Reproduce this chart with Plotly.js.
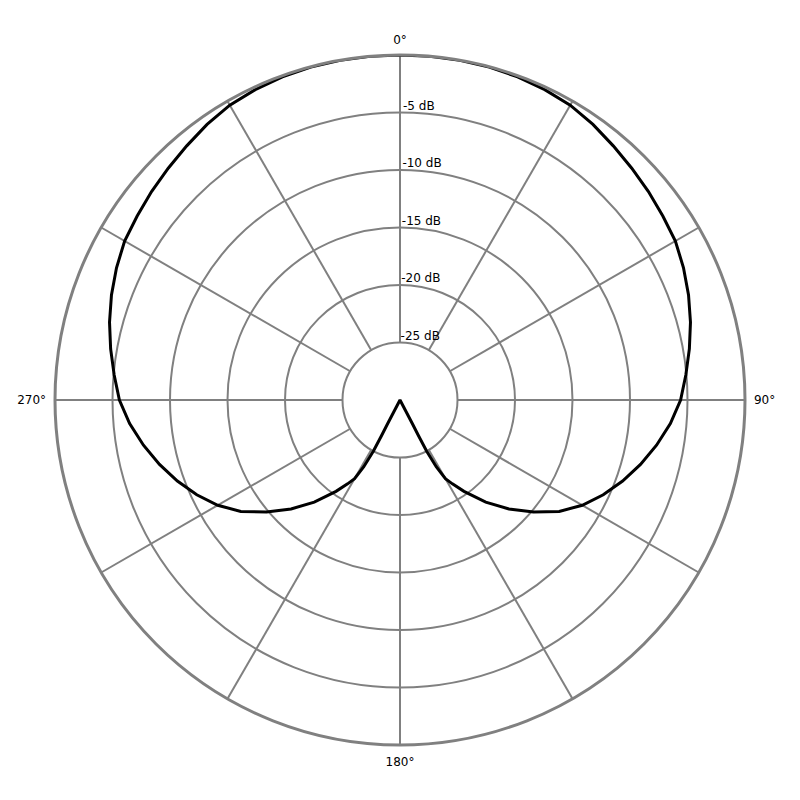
<!DOCTYPE html>
<html>
<head>
<meta charset="utf-8">
<script src="https://cdn.plot.ly/plotly-3.0.1.min.js"></script>
<style>html,body{margin:0;padding:0;background:#fff;}#chart{width:800px;height:800px;}</style>
</head>
<body>
<div id="chart"></div>
<script>
// Polar response (dB), angle in degrees (clockwise from top)
var curveTheta = [0, 5, 10, 15, 20, 25, 30, 35, 40, 45, 50, 55, 60, 65, 70, 75, 80, 85, 90,
                  95, 100, 105, 110, 115, 120, 125, 130, 135, 140, 145, 148, 150, 151.5, 152.5, 152.6, 152.4, 153, 180,
                  207, 207.6, 207.4, 207.5, 208.5, 210, 212, 215, 220, 225, 230, 235, 240, 245, 250, 255, 260, 265,
                  270, 275, 280, 285, 290, 295, 300, 305, 310, 315, 320, 325, 330, 335, 340, 345, 350, 355, 360];
var curveR = [0, 0, 0, -0.02, -0.1, -0.22, -0.4, -0.75, -1.15, -1.5, -1.8, -2.1, -2.35, -2.8, -3.3, -3.85, -4.45, -5.05, -5.6,
              -6.4, -7.35, -8.35, -9.4, -10.5, -11.7, -13.1, -14.85, -16.6, -18.4, -20.3, -21.4, -22.1, -23.4, -25.0, -26.5, -27.6, -30, -30,
              -30, -27.6, -26.5, -25.0, -23.4, -22.1, -21.4, -20.3, -18.4, -16.6, -14.85, -13.1, -11.7, -10.5, -9.4, -8.35, -7.35, -6.4,
              -5.6, -5.05, -4.45, -3.85, -3.3, -2.8, -2.35, -2.1, -1.8, -1.5, -1.15, -0.75, -0.4, -0.22, -0.1, -0.02, 0, 0, 0];

var ringValues = [-25, -20, -15, -10, -5];
var ringLabels = ['-25 dB', '-20 dB', '-15 dB', '-10 dB', '-5 dB'];
var spokeAngles = [0, 30, 60, 90, 120, 150, 180, 210, 240, 270, 300, 330];
var angleTicks = [0, 90, 180, 270];
var angleLabels = ['0°', '90°', '180°', '270°'];
var rMin = -30, rMax = 0, rInner = -25;

var spokeR = [], spokeT = [];
spokeAngles.forEach(function (a) {
  spokeR.push(rInner, rMax, null);
  spokeT.push(a, a, null);
});

var grey = '#808080';
var data = [
  {type: 'scatterpolar', mode: 'lines', r: spokeR, theta: spokeT,
   line: {color: grey, width: 2}, hoverinfo: 'skip', showlegend: false, connectgaps: false},
  {type: 'scatterpolar', mode: 'text', r: ringValues, theta: ringValues.map(function () { return 0.6; }),
   text: ringLabels, textposition: 'top right', textfont: {family: 'DejaVu Sans', size: 12, color: '#000'},
   hoverinfo: 'skip', showlegend: false, cliponaxis: false},
  {type: 'scatterpolar', mode: 'lines', r: curveR, theta: curveTheta,
   line: {color: '#000', width: 3}, hoverinfo: 'skip', showlegend: false}
];

var layout = {
  width: 800, height: 800,
  margin: {l: 55, r: 55, t: 55, b: 55},
  paper_bgcolor: '#fff',
  showlegend: false,
  font: {family: 'DejaVu Sans', size: 12, color: '#000'},
  polar: {
    bgcolor: '#fff',
    domain: {x: [0, 1], y: [0, 1]},
    radialaxis: {
      range: [rMin, rMax], tickvals: ringValues, showticklabels: false, ticks: '',
      showline: false, angle: 90, gridcolor: grey, gridwidth: 2
    },
    angularaxis: {
      rotation: 90, direction: 'clockwise', tickvals: angleTicks, ticktext: angleLabels,
      showgrid: false, ticks: 'outside', ticklen: 5, tickcolor: 'rgba(0,0,0,0)',
      showline: true, linecolor: grey, linewidth: 3,
      tickfont: {family: 'DejaVu Sans', size: 12, color: '#000'}
    }
  }
};

Plotly.newPlot('chart', data, layout, {displayModeBar: false, staticPlot: true});
</script>
</body>
</html>
